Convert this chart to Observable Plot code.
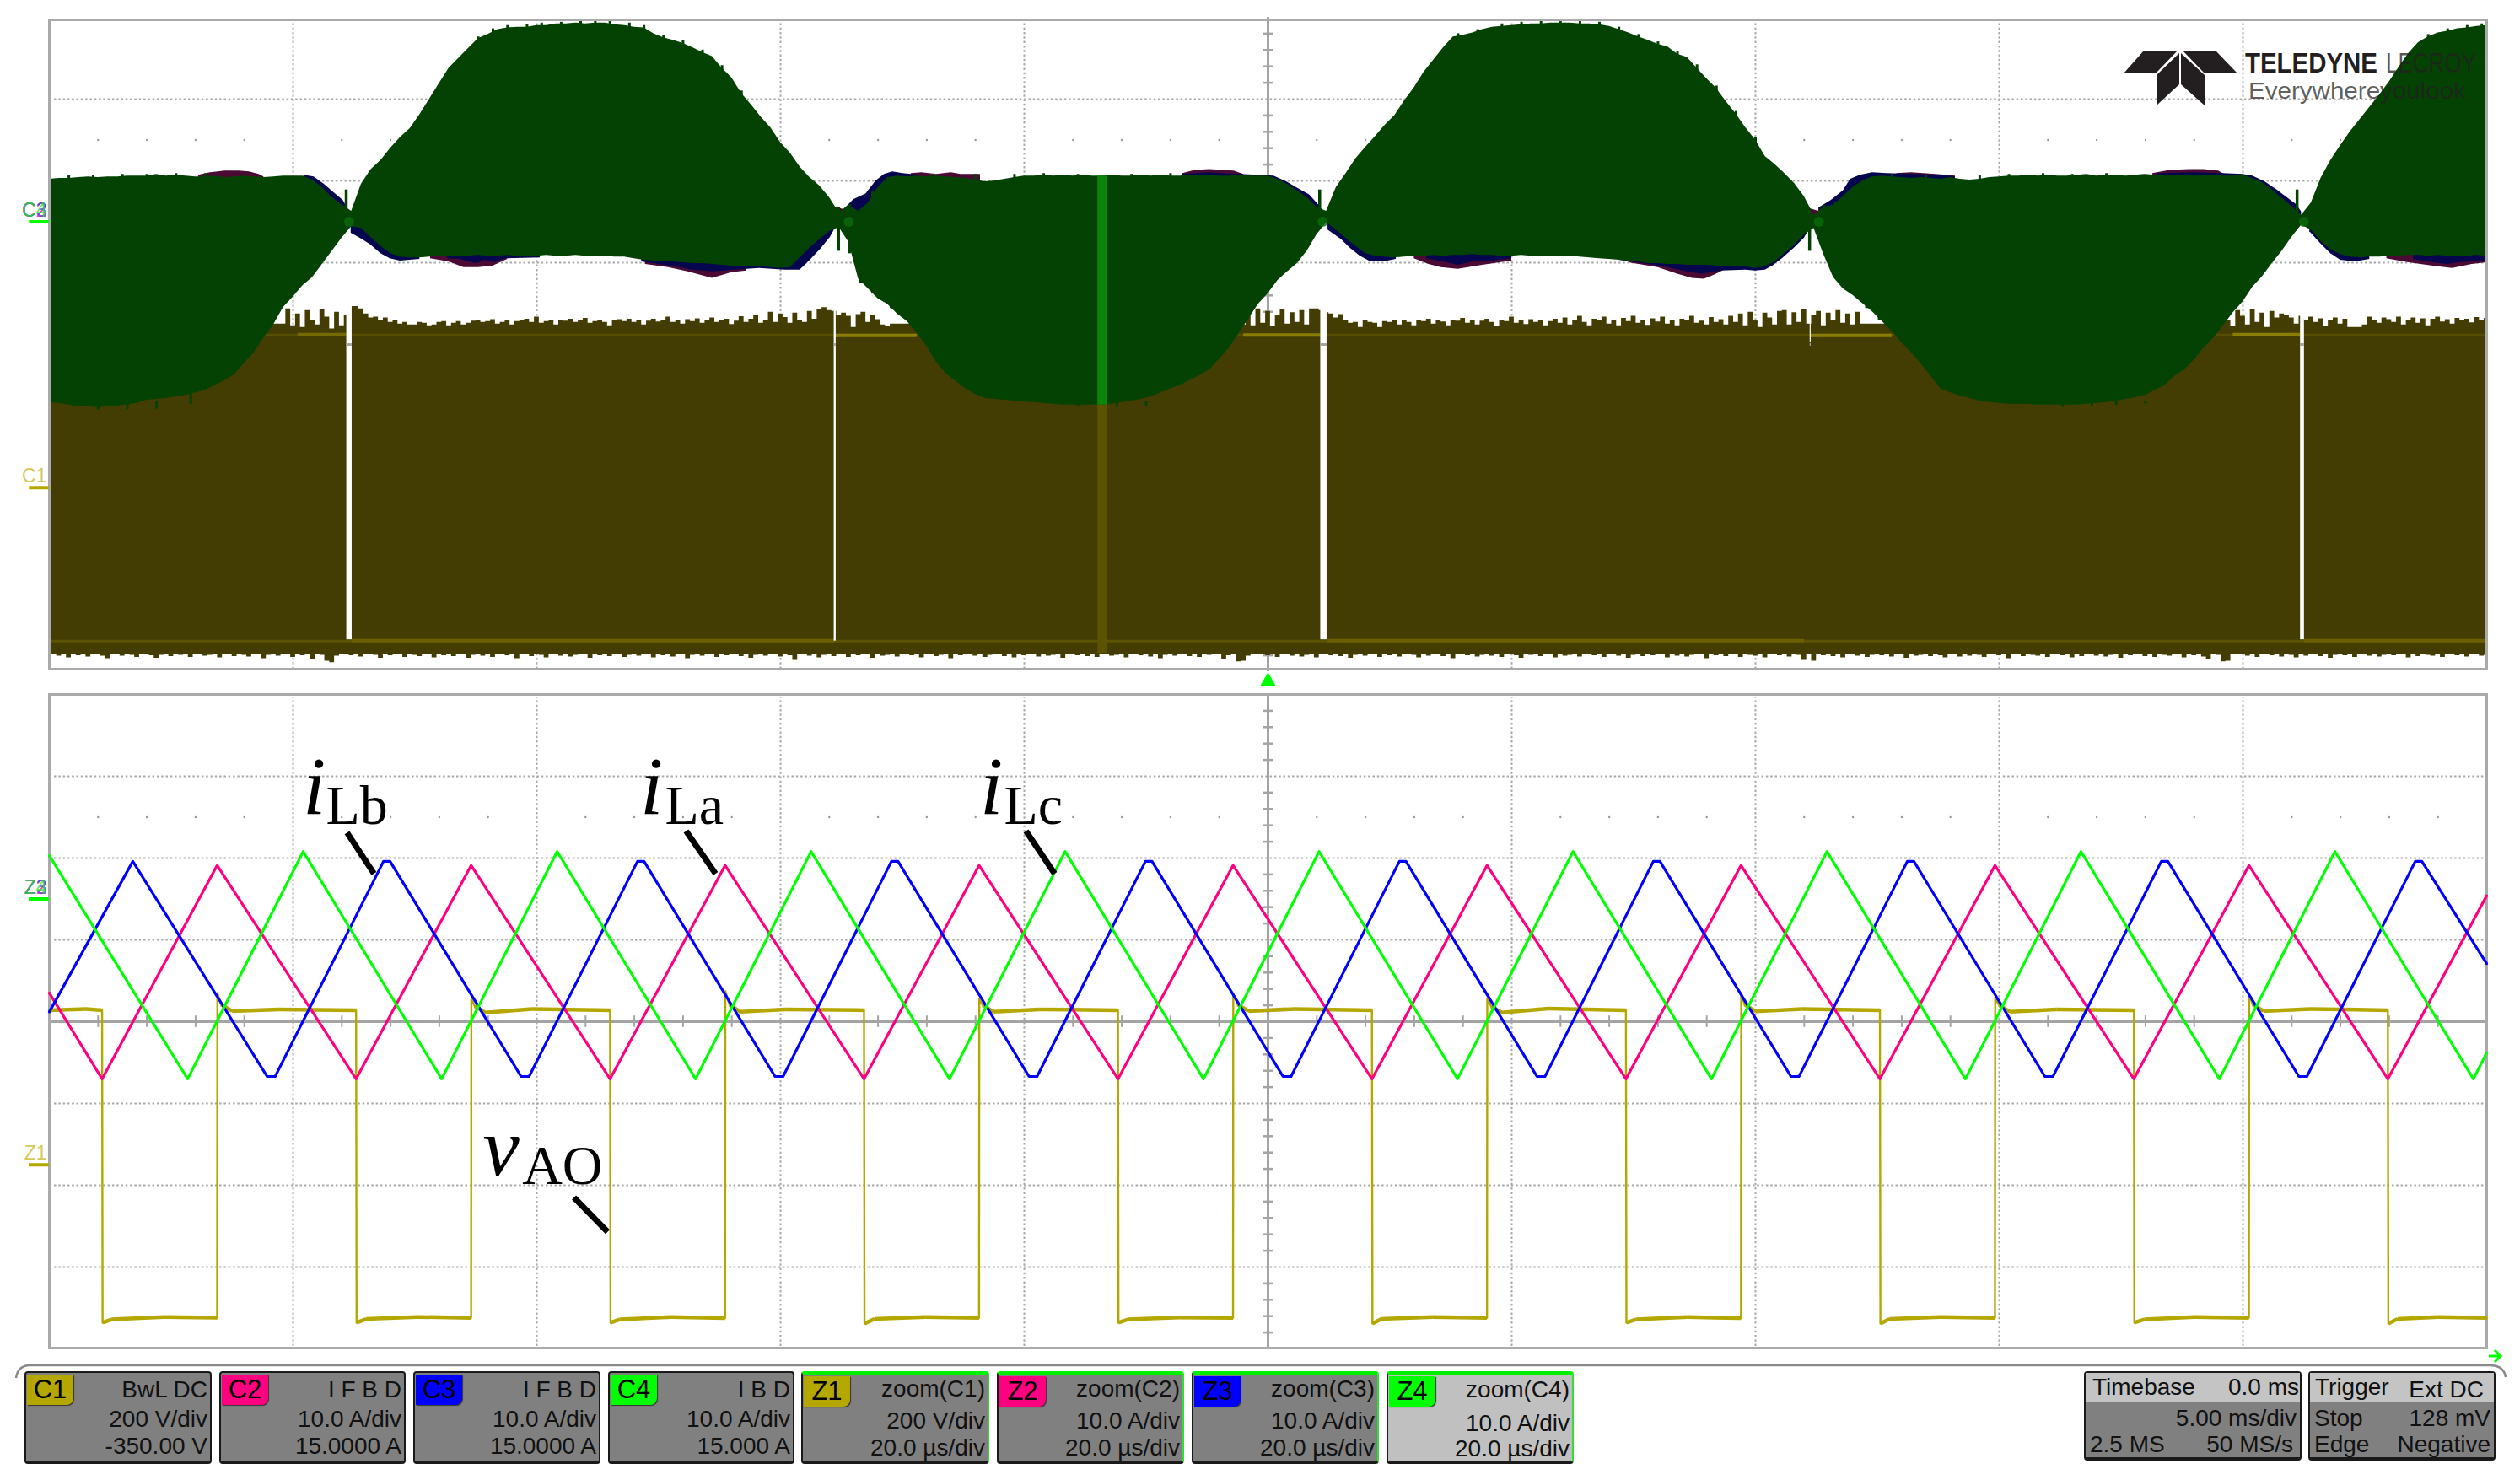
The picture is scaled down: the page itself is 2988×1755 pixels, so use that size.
<!DOCTYPE html>
<html><head><meta charset="utf-8">
<script src="https://cdn.jsdelivr.net/npm/d3@7"></script>
<script src="https://cdn.jsdelivr.net/npm/@observablehq/plot@0.6"></script>
<style>
html,body{margin:0;background:#fff}
#page{position:relative;width:2988px;height:1755px;overflow:hidden;font-family:"Liberation Sans",Arial,sans-serif}
#page>div.p{position:absolute;left:0}
.tile{position:absolute;box-sizing:border-box;background:#808080;border:2px solid #1a1a1a;border-bottom-width:4px;border-radius:4px;color:#111;font-size:28px;line-height:1}
.tile span{position:absolute;white-space:nowrap}
.badge{position:absolute;left:1px;top:2px;width:55px;height:36px;border-radius:0 0 8px 0;font-size:31px;text-align:center;line-height:36px;color:#000;box-shadow:1px 1px 1px #333}
.tile.zoom{border-top:4px solid #00f000;border-right:2px solid #30e030}
.tile.active{background:#c0c0c0}
.head{position:absolute;left:0;right:0;top:0;height:35px;background:#c4c4c4}
</style></head><body><div id="page"></div>
<script>
// ---- display settings of the oscilloscope
const ampsOffset = 15, ampsPerDiv = 10, voltsOffset = -350, voltsPerDiv = 200;
const amps = a => (a + ampsOffset) / ampsPerDiv;
const volts = v => (v + voltsOffset) / voltsPerDiv;

// ---- upper panel: 5 ms/div, envelopes every 0.2 ms from -25 ms (amps)
const greenTop = [5.2,5.3,5.3,5.4,5.5,5.4,5.5,5.5,5.6,5.6,
5.6,5.8,5.6,5.7,5.6,5.5,5.5,5.6,5.4,5.5,
5.6,5.5,5.4,5.5,5.6,5.6,5.6,5.1,4.2,3.0,
2.1,1.3,4.6,6.4,7.5,9.0,10.3,11.4,13.1,15.0,
16.9,18.8,20.0,21.2,22.4,22.9,23.5,23.7,23.8,23.8,
24.0,24.0,24.2,24.2,24.3,24.2,24.3,24.3,24.1,24.0,
23.8,23.7,23.0,22.5,22.2,21.8,21.3,20.7,20.2,18.8,
17.6,15.7,14.3,12.8,11.5,9.7,8.4,6.7,5.4,4.4,
3.0,1.1,2.0,1.3,2.3,4.2,5.4,5.6,5.5,5.6,
5.5,5.6,5.5,5.4,5.3,5.1,4.9,5.0,5.2,5.4,
5.6,5.6,5.7,5.6,5.7,5.6,5.7,5.6,5.6,5.7,
5.6,5.6,5.7,5.6,5.7,5.6,5.6,5.7,5.6,5.7,
5.6,5.6,5.7,5.6,5.6,5.6,5.2,4.6,3.8,3.0,
1.8,1.3,4.2,5.9,7.7,9.1,10.4,11.8,13.0,14.8,
16.4,18.3,19.8,21.3,22.6,22.8,23.1,23.5,23.8,23.9,
24.0,24.1,24.2,24.2,24.3,24.3,24.3,24.2,24.2,24.1,
23.9,23.5,23.1,22.6,22.2,21.7,21.4,20.5,20.1,18.8,
17.5,16.3,14.7,13.2,11.5,10.0,8.0,7.0,5.9,4.7,
3.1,0.8,1.8,2.0,3.1,4.2,5.0,5.5,5.6,5.5,
5.4,5.3,5.4,5.3,5.2,5.4,5.2,5.1,5.2,5.4,
5.5,5.6,5.6,5.7,5.6,5.7,5.6,5.6,5.7,5.8,
5.6,5.7,5.7,5.6,5.7,5.8,5.7,5.6,5.7,5.7,
5.6,5.7,5.7,5.6,5.6,5.7,5.3,4.8,3.9,2.9,
1.9,0.8,2.3,5.3,7.5,9.3,11.0,12.5,14.0,15.5,
17.1,18.9,20.6,21.9,22.6,23.1,23.3,23.6,23.7,23.9,24.0];
const greenBottom = [-22.1,-22.2,-22.4,-22.6,-22.6,-22.7,-22.6,-22.5,-22.4,-22.2,
-21.8,-21.7,-21.6,-21.4,-21.2,-20.9,-20.6,-20.0,-19.4,-18.7,
-17.3,-16.0,-14.2,-12.6,-10.5,-9.2,-7.8,-6.8,-5.2,-3.6,
-2.0,-0.6,-0.8,-1.9,-3.0,-3.9,-4.3,-4.4,-4.4,-4.3,
-4.2,-4.2,-4.3,-4.2,-4.1,-4.2,-4.2,-4.1,-4.2,-4.3,
-4.2,-4.1,-4.2,-4.2,-4.1,-4.2,-4.2,-4.2,-4.3,-4.3,
-4.5,-4.7,-4.8,-4.8,-4.9,-5.0,-5.1,-5.1,-5.2,-5.3,
-5.4,-5.4,-5.5,-5.5,-5.6,-5.7,-5.6,-4.4,-3.2,-2.2,
-1.2,-0.7,-2.5,-7.0,-8.2,-9.4,-10.1,-11.3,-12.2,-13.6,
-15.2,-17.2,-18.6,-19.5,-20.4,-21.1,-21.6,-21.7,-21.8,-21.9,
-22.0,-22.1,-22.2,-22.3,-22.4,-22.4,-22.4,-22.4,-22.4,-22.3,
-22.1,-21.9,-21.7,-21.4,-20.9,-20.4,-20.0,-19.4,-18.8,-18.1,
-16.8,-15.5,-13.7,-11.9,-10.1,-8.8,-7.2,-6.1,-5.1,-3.6,
-1.6,-0.1,-1.0,-2.0,-3.0,-3.9,-4.2,-4.3,-4.4,-4.3,
-4.2,-4.2,-4.1,-4.2,-4.1,-4.1,-4.0,-4.1,-4.1,-4.2,
-4.2,-4.1,-4.2,-4.2,-4.2,-4.2,-4.2,-4.3,-4.4,-4.5,
-4.6,-4.7,-4.8,-4.9,-5.1,-5.1,-5.2,-5.2,-5.3,-5.3,
-5.3,-5.4,-5.4,-5.4,-5.5,-5.7,-5.5,-4.9,-3.9,-2.9,
-1.6,-0.8,-4.0,-6.8,-8.2,-9.0,-10.0,-11.0,-12.2,-13.4,
-14.8,-16.0,-17.4,-18.9,-20.4,-20.9,-21.3,-21.6,-21.9,-22.1,
-22.2,-22.3,-22.3,-22.3,-22.4,-22.4,-22.4,-22.4,-22.4,-22.3,
-22.2,-22.1,-21.9,-21.7,-21.5,-21.2,-20.6,-20.0,-18.9,-18.1,
-16.9,-15.4,-14.2,-12.7,-11.1,-9.8,-8.0,-6.7,-5.1,-3.6,
-1.9,-0.4,-1.0,-2.4,-3.4,-4.0,-4.3,-4.4,-4.3,-4.3,
-4.2,-4.2,-4.1,-4.1,-4.2,-4.1,-4.2,-4.2,-4.2,-4.1,-4.2];
// short hairs that stick out of the green envelope: [ms, outermost A, inner A]
const greenFringe = [[-24.6,5.7,5],[-24.1,5.7,5],[-23.5,5.8,5],[-23,5.8,5],[-22.4,5.9,5],[-21.8,5.9,5],
[-16.2,22.6,20.6],[-15.9,23.6,21.6],[-15.6,24,22],[-15.2,24.1,22],[-14.9,24.3,22],[-14.5,24.4,22],[-14.1,24.6,22],[-13.8,24.5,22],[-13.5,24.6,22],[-13.1,24.3,22],[-12.8,24,22],[-12.4,22.8,20.8],[-12,22.2,20.2],[-11.6,21,19],[-11.2,19.1,17],[-10.8,16,14],
[-6.9,5.8,5],[-6,5.8,5],[-5.2,5.8,5],[-4.6,5.9,5],[-3.9,5.8,5],[-2.8,5.8,5],[-2,5.9,5],
[3.9,23,21],[4.3,23.5,21.5],[4.8,24.2,22],[5.2,24.4,22],[5.6,24.5,22],[6,24.6,22],[6.4,24.6,22],[6.8,24.4,22],[7.2,23.8,21.8],[7.6,22.9,20.9],[8,22,20],[8.4,20.8,18.8],[8.8,19.2,17.2],[9.2,16.6,14.6],[9.6,13.5,11.5],[10,10.3,8.3],
[12.8,5.8,5],[13.5,5.7,5],[14.6,5.7,5],[15.2,5.8,5],[15.9,5.9,5],[16.5,5.8,5],[17.2,5.9,5],
[23.8,22.9,20.9],[24.2,23.6,21.6],[24.6,24,22],[24.9,24.2,22],
[-24.5,-22.6,-22],[-24,-23,-22],[-23.4,-23,-22],[-22.8,-22.9,-22],[-22.1,-22.3,-21],[-4.4,-22.3,-21],[-3.9,-22.6,-22],[-3.1,-22.7,-22],[-2.5,-22.5,-22],[15.7,-22.4,-22],[16.3,-22.7,-22],[16.9,-22.6,-22],[17.4,-22.4,-22],[18,-22.3,-22]];

// C1 upper envelope every 0.1 ms (volts); the flat parts lie behind the green trace
const oliveTop = [400,400,400,400,400,400,400,400,400,400,
400,400,400,400,400,400,400,400,400,400,
400,400,400,400,400,400,400,400,400,400,
400,400,400,400,400,400,400,400,400,400,
400,400,400,400,400,400,400,400,400,
437,396,425,392,433,408,398,435,417,388,429,396,421,
443,443,437,425,415,417,409,415,404,410,400,404,398,398,404,402,396,398,404,406,
396,402,406,398,402,407,409,404,406,411,400,404,408,398,406,410,412,404,417,402,
406,409,398,410,407,412,404,408,414,402,406,410,404,396,408,411,406,412,404,409,
398,407,412,405,410,417,404,408,400,411,406,413,402,409,415,404,408,412,399,407,
418,404,412,422,402,410,429,404,425,416,402,427,408,404,431,412,
436,440,433,431,421,427,419,392,423,429,404,420,411,398,394,
400,400,400,400,400,400,400,400,400,400,
400,400,400,400,400,400,400,400,400,400,
400,400,400,400,400,400,400,400,400,400,
400,400,400,400,400,400,400,400,400,400,
400,400,400,400,400,400,400,400,400,400,
400,400,400,400,400,400,400,400,400,400,
400,400,400,400,400,400,400,400,400,400,400,
433,398,425,396,437,402,431,394,420,435,400,428,404,433,398,
437,437,433,428,425,415,423,410,402,404,392,410,404,402,392,406,404,
408,398,410,404,396,409,406,412,400,408,405,396,410,407,414,402,409,398,407,412,
404,394,410,406,417,402,408,399,411,404,409,396,406,412,
402,415,398,410,419,404,396,412,408,417,400,410,396,414,406,419,402,409,397,413,
405,417,400,410,396,412,408,419,402,407,398,416,404,411,398,419,
404,425,396,429,410,392,427,415,398,431,
433,398,428,404,435,400,421,431,396,427,408,433,402,425,398,429,
400,400,400,400,400,400,400,400,400,400,
400,400,400,400,400,400,400,400,400,400,
400,400,400,400,400,400,400,400,400,400,
400,400,400,400,400,400,400,400,400,400,
400,400,400,400,400,400,400,400,400,400,
400,400,400,400,400,400,400,400,400,400,
400,400,400,400,400,400,400,400,400,400,400,
402,429,396,436,410,394,433,419,398,435,404,427,392,431,415,
425,421,415,400,419,410,417,404,413,394,408,415,400,412,392,392,392,398,417,409,
402,415,411,404,417,398,410,415,402,413,396,412,417,405,411,400,414,
408,412,403,416,409,414,401,410,415,406,413,404,409,415,402,411,407,413,405];
// C1 lower envelope every 0.1 ms
const oliveBottom = [-410,-408,-412,-409,-416,-408,-411,-408,-414,-409,-408,-412,-418,-409,-408,-412,-408,-410,-415,-409,
-408,-411,-417,-410,-408,-413,-408,-410,-408,-415,-409,-408,-412,-410,-408,-416,-409,-408,-413,-408,
-410,-414,-408,-409,-418,-410,-408,-412,-409,-408,-415,-408,-411,-409,-420,-408,-410,-424,-428,-412,
-408,-409,-411,-408,-414,-409,-408,-410,-417,-408,-411,-408,-409,-415,-408,-410,-413,-408,-409,-416,
-408,-411,-408,-413,-409,-408,-417,-410,-408,-412,-408,-415,-409,-408,-411,-408,-418,-409,-408,-413,
-408,-410,-416,-408,-409,-412,-408,-414,-410,-408,-409,-417,-408,-411,-408,-413,-409,-408,-415,-410,
-408,-412,-408,-409,-416,-408,-411,-408,-414,-409,-408,-418,-410,-408,-412,-409,-408,-415,-408,-411,
-409,-408,-413,-408,-417,-410,-408,-412,-408,-409,-414,-408,-411,-422,-409,-408,-412,-408,-416,-410,
-408,-413,-409,-408,-415,-408,-411,-409,-408,-417,-408,-412,-410,-408,-414,-409,-408,-411,-408,-416,
-409,-408,-413,-410,-408,-418,-408,-411,-409,-408,-412,-408,-415,-410,-408,-409,-413,-408,-416,-408,
-411,-409,-408,-414,-408,-412,-410,-408,-417,-409,-408,-411,-408,-413,-408,-415,-409,-408,-412,-410,
-408,-416,-408,-409,-411,-408,-414,-408,-418,-410,-408,-412,-409,-408,-413,-408,-415,-408,-410,-409,
-408,-420,-411,-408,-426,-424,-412,-408,-409,-407,-411,-408,-415,-409,-408,-412,-408,-414,-410,-408,
-416,-409,-408,-411,-408,-413,-408,-417,-410,-408,-412,-409,-408,-415,-408,-411,-408,-414,-409,-408,
-410,-416,-408,-412,-409,-408,-413,-408,-418,-409,-408,-411,-408,-414,-410,-408,-412,-408,-415,-409,
-408,-411,-417,-408,-410,-408,-413,-409,-408,-416,-408,-412,-410,-408,-414,-408,-409,-411,-408,-415,
-409,-408,-412,-408,-417,-410,-408,-413,-408,-411,-409,-408,-416,-408,-412,-408,-414,-410,-408,-409,
-418,-408,-411,-408,-413,-409,-408,-415,-408,-410,-412,-408,-416,-409,-408,-411,-408,-414,-408,-410,
-422,-409,-424,-408,-411,-407,-413,-408,-416,-409,-408,-412,-408,-415,-410,-408,-411,-408,-414,-409,
-408,-417,-408,-412,-410,-408,-413,-408,-411,-416,-408,-409,-414,-408,-412,-408,-410,-415,-408,-409,
-411,-408,-418,-409,-408,-413,-408,-410,-412,-408,-415,-409,-408,-411,-408,-416,-408,-413,-409,-408,
-412,-408,-414,-410,-408,-417,-408,-411,-409,-408,-413,-408,-415,-408,-410,-412,-409,-408,-416,-408,
-411,-408,-414,-420,-408,-410,-426,-424,-409,-408,-407,-412,-408,-415,-409,-408,-411,-408,-414,-408,
-410,-416,-408,-412,-409,-408,-413,-408,-417,-410,-408,-411,-408,-415,-409,-408,-412,-408,-414,-410,
-408,-411,-409,-408,-416,-408,-413,-408,-410,-412,-408,-415,-409,-408,-411,-408,-414,-408,-409,-412,-410];

// spikes around each zero crossing: [ms, top A, bottom A]
const crossingSpikes = [[-18.91,3.9,-0.6],[-8.81,1.8,-3.6],[-8.58,2.1,-3.9],[-8.36,0.5,-7.5],[-8.11,3.7,-8.7],[-7.9,2,-9.3],[-7.73,3,-10.6],[-7.56,3,-11.3],[-7.32,3,-12.6],[1.06,3.9,-0.7],[11.11,0.8,-3.6],[11.4,2.0,-3.6],[11.64,2.3,-6.8],[11.82,2,-8],[12.06,3,-9.2],[12.28,3,-10.6],[12.54,3,-12.1],[21.11,3.9,-0.7]];
const crossingGlow = [-18.85,-8.6,1.12,11.3,21.25];

// edges of C3 (navy) and C2 (maroon) that show past the green trace: [ms, A]
const navyEdges = [
 [[-19.78,5.7],[-19.57,5.5],[-19.36,4.6],[-19.17,3.6],[-18.97,2.6],[-18.88,1.6]],
 [[-18.81,-1.4],[-18.6,-2.1],[-18.41,-2.8],[-18.2,-3.9],[-18.01,-4.5],[-17.8,-4.8],[-17.6,-4.7],[-17.4,-4.6]],
 [[-16.83,-4.5],[-16.57,-4.6],[-16.4,-4.9],[-16.23,-5.1],[-16.06,-4.7],[-15.88,-5.0],[-15.62,-4.5],[-14.93,-4.4]],
 [[-12.85,-4.9],[-12.16,-5.5],[-11.82,-5.9],[-11.38,-6.1],[-10.95,-5.9],[-10.43,-5.7],[-9.91,-5.9],[-9.6,-5.9],[-9.39,-4.7],[-9.17,-3.3],[-8.98,-1.9],[-8.88,-0.8]],
 [[-8.7,1.5],[-8.5,2.7],[-8.25,3.4],[-8.04,5.0],[-7.87,5.8],[-7.7,6.1],[-7.49,5.9],[-7.15,5.7]],
 [[-1.75,5.8],[-1.2,6.0],[-0.6,5.8],[-0.2,5.7],[0.12,5.6],[0.38,4.9],[0.64,4.0],[0.85,3.3],[1.02,2.2],[1.12,1.4]],
 [[1.23,-1.0],[1.51,-2.2],[1.68,-3.2],[1.89,-4.2],[2.11,-4.9],[2.37,-4.9],[2.63,-4.6]],
 [[3.25,-4.5],[3.6,-4.9],[3.9,-5.3],[4.2,-4.9],[4.6,-4.8],[5.0,-4.5]],
 [[7.2,-4.7],[7.8,-5.2],[8.2,-5.6],[8.6,-6.1],[8.9,-6.4],[9.3,-6.0],[9.8,-5.9],[10.0,-6.0],[10.2,-5.9],[10.35,-5.4],[10.55,-4.5],[10.8,-3.2],[11.0,-2.0],[11.1,-1.0]],
 [[11.3,1.7],[11.55,2.6],[11.8,3.8],[11.95,5.2],[12.15,5.7],[12.4,6.0],[12.7,5.9],[13.3,5.8],[13.8,5.7],[14.1,5.5]],
 [[18.25,5.9],[19,6.0],[19.6,5.9],[20,5.8],[20.2,5.6],[20.45,4.9],[20.7,3.9],[20.9,3.0],[21.1,2.1],[21.2,1.2]],
 [[21.37,-1.2],[21.6,-2.7],[21.8,-3.9],[22.0,-4.7],[22.3,-4.9],[22.6,-4.6]],
 [[23.5,-4.6],[23.9,-5.0],[24.2,-5.2],[24.4,-5.0],[24.7,-4.9],[25,-4.8]]
];
const maroonEdges = [
 [[-21.94,5.7],[-21.7,6.0],[-21.4,6.2],[-21.1,6.2],[-20.9,6.1],[-20.7,5.8],[-20.6,5.5]],
 [[-7.32,5.9],[-7.1,6.0],[-6.8,5.8],[-6.5,6.0],[-6.3,5.8],[-5.9,5.8]],
 [[-1.75,5.9],[-1.5,6.3],[-1.2,6.4],[-0.9,6.3],[-0.7,6.2],[-0.5,5.8]],
 [[12.9,5.9],[13.2,6.0],[13.7,5.8],[14.1,5.6]],
 [[18.15,5.9],[18.5,6.3],[18.9,6.4],[19.2,6.4],[19.5,6.2],[19.65,5.7]],
 [[-17.18,-4.5],[-16.8,-4.9],[-16.5,-5.6],[-16.2,-5.6],[-15.9,-5.4],[-15.6,-4.6]],
 [[-12.77,-5.2],[-12.3,-5.6],[-11.9,-6.1],[-11.4,-6.9],[-11.0,-6.2],[-10.7,-6.0],[-10.65,-5.0]],
 [[3.0,-4.5],[3.3,-5.2],[3.55,-5.6],[3.9,-5.8],[4.4,-5.3],[5.0,-4.8]],
 [[7.4,-5.0],[8.0,-5.6],[8.4,-6.4],[8.7,-6.9],[8.95,-7.0],[9.2,-6.4],[9.5,-5.5]],
 [[22.95,-4.5],[23.4,-5.0],[24,-5.5],[24.3,-5.7],[24.7,-5.2],[25,-5.0]],
 [[-8.88,1.8],[-8.7,1.5]],[[11.12,1.6],[11.3,1.3]]
];
// C1 level traces: [from ms, to ms, volts, colour]
const levelDim = [[-25,25,373,"#544d02"],[-25,25,-375,"#5a5302"]];
const levelBright = [[-19.9,-18.9,374,"#746a00"],[-8.88,-7.2,372,"#8a7e00"],[-0.5,1.08,373,"#8a7e00"],[11.13,12.8,372,"#8a7e00"],[19.8,21.18,374,"#8a7e00"],[-18.79,-8.88,-374,"#6a6000"],[1.21,11,-374,"#6a6000"],[21.26,25,-374,"#6a6000"]];
// white drop-outs of C1 at the zero crossings: [from ms, to ms, lowest volts of the gap]
const dropouts = [[-18.90,-18.79,-372],[-8.90,-8.86,-375],[1.08,1.21,-372],[11.12,11.14,354],[21.18,21.26,-372]];
const centerBand = {from:-3.49, to:-3.30, ampsTop:5.6, ampsBottom:-22.4, voltsBottom:-405};

// ---- lower panel: 20 us/div, [us, value]
const pinkTrace = [[-100,-11.5],[-95.67,-22],[-86.23,4.1],[-74.83,-22],[-65.39,4.1],[-53.99,-22],[-44.55,4.1],[-33.15,-22],[-23.71,4.1],[-12.31,-22],[-2.87,4.1],[8.53,-22],[17.97,4.1],[29.37,-22],[38.81,4.1],[50.21,-22],[59.65,4.1],[71.05,-22],[80.49,4.1],[91.89,-22],[100,0.4]];
const blueTrace = [[-100,-13.8],[-93.15,4.6],[-82.13,-21.7],[-81.47,-21.7],[-72.58,4.6],[-72.04,4.6],[-61.29,-21.7],[-60.63,-21.7],[-51.74,4.6],[-51.2,4.6],[-40.45,-21.7],[-39.79,-21.7],[-30.9,4.6],[-30.36,4.6],[-19.61,-21.7],[-18.95,-21.7],[-10.06,4.6],[-9.52,4.6],[1.23,-21.7],[1.89,-21.7],[10.78,4.6],[11.32,4.6],[22.07,-21.7],[22.73,-21.7],[31.62,4.6],[32.16,4.6],[42.91,-21.7],[43.57,-21.7],[52.46,4.6],[53,4.6],[63.75,-21.7],[64.41,-21.7],[73.3,4.6],[73.84,4.6],[84.59,-21.7],[85.25,-21.7],[94.14,4.6],[94.68,4.6],[100,-7.9]];
const greenTrace = [[-100,5.3],[-88.65,-22],[-79.17,5.8],[-67.81,-22],[-58.33,5.8],[-46.97,-22],[-37.49,5.8],[-26.13,-22],[-16.65,5.8],[-5.29,-22],[4.19,5.8],[15.55,-22],[25.03,5.8],[36.39,-22],[45.87,5.8],[57.23,-22],[66.71,5.8],[78.07,-22],[87.55,5.8],[98.91,-22],[100,-18.8]];
const voltageTrace = [[-100,378],[-97,381],[-95.67,378],[-95.63,-386],[-94.9,-378],[-90.6,-372],[-86.23,-374],
[-86.21,420],[-85.9,392],[-85,376],[-81.2,380],[-74.83,378],[-74.79,-386],[-74,-377],[-69.8,-372],[-65.39,-374],
[-65.37,405],[-65.1,388],[-64.2,372],[-60.4,381],[-53.99,378],[-53.95,-386],[-53.2,-378],[-49,-372],[-44.55,-375],
[-44.53,425],[-44.2,392],[-43.3,374],[-39.6,380],[-33.15,378],[-33.11,-388],[-32.3,-377],[-28.1,-372],[-23.71,-374],
[-23.69,405],[-23.4,390],[-22.5,374],[-18.8,380],[-12.31,378],[-12.27,-386],[-11.5,-378],[-7.3,-373],[-2.87,-374],
[-2.85,418],[-2.5,392],[-1.6,376],[2.2,381],[8.53,378],[8.57,-388],[9.3,-377],[13.5,-372],[17.97,-374],
[17.99,406],[18.3,388],[19.2,372],[23,382],[29.37,378],[29.41,-386],[30.2,-378],[34.4,-372],[38.81,-375],
[38.83,420],[39.1,392],[40,375],[43.8,381],[50.21,378],[50.25,-388],[51,-377],[55.2,-372],[59.65,-374],
[59.67,408],[60,390],[60.9,374],[64.7,380],[71.05,378],[71.09,-386],[71.9,-378],[76,-372],[80.49,-374],
[80.51,416],[80.8,392],[81.7,376],[85.5,381],[91.89,378],[91.93,-388],[92.7,-377],[96,-372],[100,-374]];

// ---- hand-written annotations, lower panel
const annotations = [
 {sym:"i",sub:"Lb",t:-79.2,d:2.54,st:-77.3,sd:2.42,from:[-75.57,2.31],to:[-73.36,1.81]},
 {sym:"i",sub:"La",t:-51.52,d:2.54,st:-49.48,sd:2.42,from:[-47.75,2.33],to:[-45.33,1.81]},
 {sym:"i",sub:"Lc",t:-23.63,d:2.54,st:-21.66,sd:2.42,from:[-19.86,2.33],to:[-17.51,1.81]},
 {sym:"v",sub:"AO",t:-64.45,d:-1.87,st:-61.2,sd:-1.98,from:[-56.95,-2.15],to:[-54.19,-2.57]}
];

// ---- read-out tiles
const channelTiles = [
 {x:29,w:222,tag:"C1",color:"#b4a800",top:"BwL  DC",a:"200 V/div",b:"-350.00 V"},
 {x:260,w:221,tag:"C2",color:"#ff0080",top:"I F B D",a:"10.0 A/div",b:"15.0000 A"},
 {x:490,w:222,tag:"C3",color:"#0000ff",top:"I F B D",a:"10.0 A/div",b:"15.0000 A"},
 {x:721,w:221,tag:"C4",color:"#00ff00",top:"I B D",a:"10.0 A/div",b:"15.000 A"},
 {x:950,w:223,tag:"Z1",color:"#b4a800",top:"zoom(C1)",a:"200 V/div",b:"20.0 µs/div",zoom:1},
 {x:1182,w:222,tag:"Z2",color:"#ff0080",top:"zoom(C2)",a:"10.0 A/div",b:"20.0 µs/div",zoom:1},
 {x:1413,w:222,tag:"Z3",color:"#0000ff",top:"zoom(C3)",a:"10.0 A/div",b:"20.0 µs/div",zoom:1},
 {x:1644,w:222,tag:"Z4",color:"#00ff00",top:"zoom(C4)",a:"10.0 A/div",b:"20.0 µs/div",zoom:1,active:1}
];
const timebase = ["Timebase","0.0 ms","5.00 ms/div","2.5 MS","50 MS/s"];
const trigger = ["Trigger","Ext  DC","Stop","128 mV","Edge","Negative"];
const logoWords = ["TELEDYNE","LECROY","Everywhereyoulook"];

// ---- helpers
const pairs = (list, id) => list.map(([t, a]) => ({t, a, id}));
const strokeGrid = {stroke:"#a9a9a9", strokeWidth:2, strokeDasharray:"2.5 2.8"};
const rows = {
  green: greenTop.map((hi, i) => ({t:-25 + i * 0.2, hi:amps(hi), lo:amps(greenBottom[i])})),
  olive: d3.range(501).map(i => ({t:-25 + i * 0.1, hi:volts(oliveTop[i] ?? 405), lo:volts(oliveBottom[i] ?? -410)}))
};
const plateaus = d3.pairs(voltageTrace).filter(([a, b]) => a[1] * b[1] > 0 && b[0] - a[0] > 0.5);

function graticule(xDiv) {
  const divs = d3.range(-4, 5).filter(k => k !== 0).map(k => k * xDiv);
  const sub = d3.range(-25, 26).map(k => k * xDiv / 5).filter(x => Math.abs(x) < 5 * xDiv && Math.round(x / xDiv * 5) % 5 !== 0);
  const vTicks = d3.range(-19, 20).map(k => k * 0.2).filter(y => Math.round(y * 5) % 5 !== 0);
  const tickW = 6 / 289 * xDiv;
  return [
    Plot.ruleX(divs, {y1:-3.97, y2:3.97, ...strokeGrid}),
    Plot.ruleY([-3,-2,-1,1,2,3], {x1:-5 * xDiv + tickW, x2:5 * xDiv, ...strokeGrid}),
    Plot.dot(sub, {x:d => d, y:2.5, r:1.2, fill:"#999"}),
    Plot.ruleX([0], {y1:-4, y2:4, stroke:"#a4a4a4", strokeWidth:3}),
    Plot.ruleY(vTicks, {x1:-tickW, x2:tickW, stroke:"#a4a4a4", strokeWidth:2.5}),
    Plot.ruleY([0], {x1:-5 * xDiv, x2:5 * xDiv, stroke:"#a4a4a4", strokeWidth:3}),
    Plot.ruleX(sub, {y1:-0.07, y2:0.07, stroke:"#a4a4a4", strokeWidth:2})
  ];
}

function channelFlags(left, flagW, labels, y, flagColor) {
  return [
    ...labels.map(([text, color]) => Plot.text([text], {x:left, y, dx:-3, dy:-6, text:d => d, fill:color, textAnchor:"end", lineAnchor:"bottom", fontSize:23, fontFamily:"Liberation Sans", fillOpacity:0.75})),
    Plot.ruleY([y], {x1:left - flagW, x2:left, stroke:flagColor, strokeWidth:4})
  ];
}

// ---- upper panel
const upper = Plot.plot({
  width:2988, height:822, marginLeft:58, marginRight:40, marginTop:23, marginBottom:29,
  x:{domain:[-25,25], axis:null},
  y:{domain:[-4,4], range:[796,20], axis:null},
  style:{background:"transparent", overflow:"visible"},
  marks:[
    ...graticule(5),
    Plot.areaY(rows.olive, {x:"t", y1:"lo", y2:"hi", fill:"#433d04", curve:"step"}),
    Plot.ruleY(levelDim, {x1:d => d[0], x2:d => d[1], y:d => volts(d[2]), stroke:d => d[3], strokeWidth:3}),
    Plot.ruleY(levelBright, {x1:d => d[0], x2:d => d[1], y:d => volts(d[2]), stroke:d => d[3], strokeWidth:4}),
    Plot.rect(dropouts, {x1:d => d[0], x2:d => d[1], y1:d => volts(460), y2:d => volts(d[2]), fill:"#fff"}),
    Plot.ruleY(dropouts, {x1:d => d[0], x2:d => d[1], y:0, stroke:"#a4a4a4", strokeWidth:3}),
    ...maroonEdges.map((e, k) => Plot.areaY(pairs(e, k), {x:"t", y1:amps(0), y2:d => amps(d.a), fill:"#4a0a34"})),
    ...navyEdges.map((e, k) => Plot.areaY(pairs(e, k), {x:"t", y1:amps(0), y2:d => amps(d.a), fill:"#06064e"})),
    Plot.ruleX(greenFringe, {x:d => d[0], y1:d => amps(d[1]), y2:d => amps(d[2]), stroke:"#044204", strokeWidth:3}),
    Plot.areaY(rows.green, {x:"t", y1:"lo", y2:"hi", fill:"#044204"}),
    Plot.ruleX(crossingSpikes, {x:d => d[0], y1:d => amps(d[1]), y2:d => amps(d[2]), stroke:"#044204", strokeWidth:3.5}),
    Plot.dot(crossingGlow, {x:d => d, y:amps(0), r:6, fill:"#0a6a0a", fillOpacity:0.8}),
    Plot.rect([centerBand], {x1:"from", x2:"to", y1:d => amps(d.ampsTop), y2:d => amps(d.ampsBottom), fill:"#098509"}),
    Plot.rect([centerBand], {x1:"from", x2:"to", y1:d => amps(d.ampsBottom), y2:d => volts(d.voltsBottom), fill:"#5b5300"}),
    Plot.frame({stroke:"#aaa", strokeWidth:3}),
    ...channelFlags(-25, 0.41, [["C2","#ff00a0"],["C3","#4040ff"],["C4","#20e020"]], amps(0), "#00ff00"),
    ...channelFlags(-25, 0.41, [["C1","#c8b820"]], volts(0), "#b4a800"),
    Plot.dot([0], {x:d => d, y:-4.12, symbol:"triangle", r:7, fill:"#00ff00"})
  ]
});

// ---- lower panel
const traceLine = (list, scale, color, width) => Plot.line(list, {x:d => d[0], y:d => scale(d[1]), stroke:color, strokeWidth:width, strokeLinejoin:"round"});
const textSerif = {fontFamily:"Liberation Serif", fill:"#000", textAnchor:"start", lineAnchor:"bottom"};
const lower = Plot.plot({
  width:2988, height:780, marginLeft:58, marginRight:40, marginTop:1, marginBottom:4,
  x:{domain:[-100,100], axis:null},
  y:{domain:[-4,4], range:[777,1], axis:null},
  style:{background:"transparent", overflow:"visible"},
  marks:[
    ...graticule(20),
    Plot.frame({stroke:"#aaa", strokeWidth:3}),
    traceLine(voltageTrace, volts, "#b4a800", 2.4),
    Plot.link(plateaus, {x1:d => d[0][0], y1:d => volts(d[0][1]), x2:d => d[1][0], y2:d => volts(d[1][1]), stroke:"#b4a800", strokeWidth:4.5}),
    traceLine(pinkTrace, amps, "#ff0080", 3.2),
    traceLine(blueTrace, amps, "#0000ff", 3.2),
    traceLine(greenTrace, amps, "#00ff00", 3.2),
    Plot.link(annotations, {x1:d => d.from[0], y1:d => d.from[1], x2:d => d.to[0], y2:d => d.to[1], stroke:"#000", strokeWidth:7}),
    Plot.text(annotations, {x:"t", y:"d", text:"sym", fontSize:98, fontStyle:"italic", ...textSerif}),
    Plot.text(annotations, {x:"st", y:"sd", text:"sub", fontSize:66, ...textSerif}),
    ...channelFlags(-100, 1.66, [["Z2","#ff00a0"],["Z3","#4040ff"],["Z4","#20e020"]], amps(0), "#00ff00"),
    ...channelFlags(-100, 1.66, [["Z1","#c8b820"]], volts(0), "#b4a800")
  ]
});

const page = d3.select("#page");
page.append("div").attr("class","p").style("top","0px").node().append(upper);
page.append("div").attr("class","p").style("top","822px").node().append(lower);

// ---- read-outs
function tile(x, y, w, h, cls) {
  return page.append("div").attr("class","tile " + (cls || "")).style("left",x+"px").style("top",y+"px").style("width",w+"px").style("height",h+"px");
}
function put(el, text, side, offset, top, extra) {
  const s = el.append("span").text(text).style(side, offset+"px").style("top", top+"px");
  if (extra) for (const k in extra) s.style(k, extra[k]);
  return s;
}
channelTiles.forEach(c => {
  const t = tile(c.x, 1626, c.w, 110, (c.zoom ? "zoom " : "") + (c.active ? "active" : ""));
  t.append("div").attr("class","badge").style("background", c.color).text(c.tag);
  const dy = c.active ? 1 : 0;
  put(t, c.top, "right", 3, 3 + dy, c.zoom ? {fontSize:"28px"} : {fontSize:"25px", wordSpacing:"2px", top:"6px"});
  put(t, c.a, "right", 3, 41 + dy * 3);
  put(t, c.b, "right", 3, 73 + dy);
});
[[2471, 258, timebase], [2737, 222, trigger]].forEach(([x, w, v], k) => {
  const t = tile(x, 1626, w, 106);
  t.append("div").attr("class","head");
  if (k === 0) {
    put(t, v[0], "left", 8, 3, {fontWeight:"bold", fontSize:"28px"});
    put(t, v[1], "right", 1, 3, {fontSize:"28px"});
    put(t, v[2], "right", 4, 40, {fontSize:"28px"});
    put(t, v[3], "left", 5, 71, {fontSize:"28px"});
    put(t, v[4], "right", 8, 71, {fontSize:"28px"});
  } else {
    put(t, v[0], "left", 6, 3, {fontWeight:"bold", fontSize:"28px"});
    put(t, v[1], "right", 12, 6, {fontSize:"24px"});
    put(t, v[2], "left", 5, 40, {fontSize:"28px"});
    put(t, v[3], "right", 4, 40, {fontSize:"28px"});
    put(t, v[4], "left", 5, 71, {fontSize:"28px"});
    put(t, v[5], "right", 4, 71, {fontSize:"28px"});
  }
});

// ---- tray outline, arrow and maker's logo
page.append("svg").attr("width",2988).attr("height",1755)
  .style("position","absolute").style("left",0).style("top",0).style("pointer-events","none")
  .html(`
  <path d="M19 1634 Q21 1620 34 1619 L2954 1619 Q2969 1620 2971 1633" fill="none" stroke="#8a8a8a" stroke-width="2.5"/>
  <path d="M2951 1608 H2964 M2958 1601 L2965 1608 L2958 1615" fill="none" stroke="#00ff00" stroke-width="3"/>
  <g fill="#231f20">
    <polygon points="2542,60 2582,60 2556,87 2518,87"/>
    <polygon points="2588,60 2627,60 2653,87 2614,87"/>
    <polygon points="2557,89 2584,63 2584,100 2557,125"/>
    <polygon points="2586,63 2614,89 2614,125 2586,100"/>
    <text x="2662" y="86" font-family="Liberation Sans Narrow, Liberation Sans" font-weight="bold" font-size="34" textLength="157" lengthAdjust="spacingAndGlyphs">${logoWords[0]}</text>
    <text x="2829" y="86" font-family="Liberation Sans Narrow, Liberation Sans" font-size="34" fill-opacity="0.75" textLength="107" lengthAdjust="spacingAndGlyphs">${logoWords[1]}</text>
    <text x="2666" y="117" font-family="Liberation Sans" font-size="27" fill-opacity="0.72" textLength="258" lengthAdjust="spacingAndGlyphs">${logoWords[2]}</text>
  </g>`);
</script></body></html>
